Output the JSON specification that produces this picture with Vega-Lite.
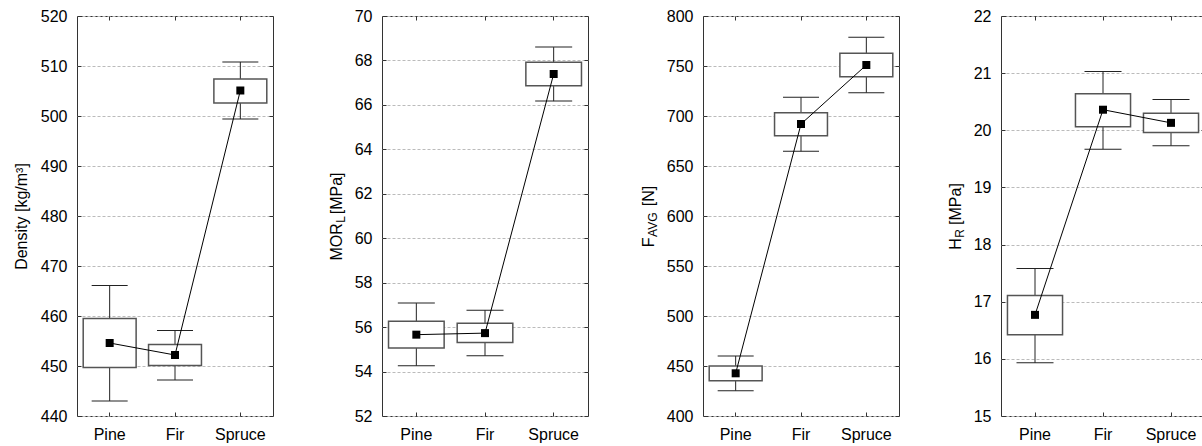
{
  "$schema": "https://vega.github.io/schema/vega-lite/v6.json",
  "background": "white",
  "padding": {"left": 12, "top": 7, "right": 0, "bottom": 0},
  "data": {"values": [
    {"panel": "Density", "species": "Pine", "lo": 443.0, "boxLo": 449.7, "mean": 454.6, "boxHi": 459.5, "hi": 466.1},
    {"panel": "Density", "species": "Fir", "lo": 447.2, "boxLo": 450.1, "mean": 452.2, "boxHi": 454.3, "hi": 457.1},
    {"panel": "Density", "species": "Spruce", "lo": 499.4, "boxLo": 502.6, "mean": 505.1, "boxHi": 507.4, "hi": 510.8},
    {"panel": "MOR", "species": "Pine", "lo": 54.26, "boxLo": 55.06, "mean": 55.66, "boxHi": 56.26, "hi": 57.08},
    {"panel": "MOR", "species": "Fir", "lo": 54.71, "boxLo": 55.31, "mean": 55.73, "boxHi": 56.17, "hi": 56.76},
    {"panel": "MOR", "species": "Spruce", "lo": 66.17, "boxLo": 66.86, "mean": 67.39, "boxHi": 67.92, "hi": 68.6},
    {"panel": "F", "species": "Pine", "lo": 425.3, "boxLo": 435.3, "mean": 442.7, "boxHi": 450.0, "hi": 460.0},
    {"panel": "F", "species": "Fir", "lo": 664.7, "boxLo": 680.3, "mean": 692.0, "boxHi": 703.3, "hi": 718.7},
    {"panel": "F", "species": "Spruce", "lo": 723.3, "boxLo": 739.3, "mean": 751.0, "boxHi": 762.7, "hi": 778.7},
    {"panel": "H", "species": "Pine", "lo": 15.93, "boxLo": 16.42, "mean": 16.77, "boxHi": 17.11, "hi": 17.58},
    {"panel": "H", "species": "Fir", "lo": 19.67, "boxLo": 20.06, "mean": 20.36, "boxHi": 20.64, "hi": 21.03},
    {"panel": "H", "species": "Spruce", "lo": 19.73, "boxLo": 19.96, "mean": 20.13, "boxHi": 20.30, "hi": 20.54}
  ]},
  "spacing": 50,
  "hconcat": [
    {
      "spacing": 109,
      "bounds": "flush",
      "hconcat": [
        {
          "width": 196, "height": 400,
          "transform": [{"filter": "datum.panel === 'Density'"}],
          "resolve": {"axis": {"x": "independent", "y": "independent"}},
          "layer": [
            {"mark": {"type": "rule", "color": "#222", "strokeWidth": 1},
             "encoding": {
               "x": {"field": "species", "type": "nominal", "sort": ["Pine", "Fir", "Spruce"], "scale": {"paddingInner": 0, "paddingOuter": 0}, "axis": {"orient": "bottom", "labelPadding": 14, "labelAngle": 0, "title": null}},
               "y": {"field": "lo", "type": "quantitative", "scale": {"domain": [440, 520], "nice": false, "zero": false}, "axis": {"orient": "left", "values": [440, 450, 460, 470, 480, 490, 500, 510, 520], "grid": true, "gridColor": "#bbbbbb", "gridDash": [3, 2], "labelPadding": 14, "title": "Density [kg/m³]", "titleX": -51, "titleY": 200, "titleAngle": -90, "titleAlign": "center", "titleBaseline": "alphabetic"}},
               "y2": {"field": "hi"}}},
            {"mark": {"type": "tick", "color": "#222", "size": 36, "thickness": 1, "opacity": 1},
             "encoding": {
               "x": {"field": "species", "type": "nominal", "sort": ["Pine", "Fir", "Spruce"], "scale": {"paddingInner": 0, "paddingOuter": 0}, "axis": null},
               "y": {"field": "hi", "type": "quantitative", "scale": {"domain": [440, 520], "nice": false, "zero": false}, "axis": null}}},
            {"mark": {"type": "tick", "color": "#222", "size": 36, "thickness": 1, "opacity": 1},
             "encoding": {
               "x": {"field": "species", "type": "nominal", "sort": ["Pine", "Fir", "Spruce"], "scale": {"paddingInner": 0, "paddingOuter": 0}, "axis": null},
               "y": {"field": "lo", "type": "quantitative", "scale": {"domain": [440, 520], "nice": false, "zero": false}, "axis": null}}},
            {"mark": {"type": "bar", "fill": "white", "stroke": "#555", "strokeWidth": 1.5, "width": {"band": 0.81}},
             "encoding": {
               "x": {"field": "species", "type": "nominal", "sort": ["Pine", "Fir", "Spruce"], "scale": {"paddingInner": 0, "paddingOuter": 0}, "axis": null},
               "y": {"field": "boxLo", "type": "quantitative", "scale": {"domain": [440, 520], "nice": false, "zero": false}, "axis": null},
               "y2": {"field": "boxHi"}}},
            {"mark": {"type": "line", "color": "#000", "strokeWidth": 1},
             "encoding": {
               "x": {"field": "species", "type": "nominal", "sort": ["Pine", "Fir", "Spruce"], "scale": {"paddingInner": 0, "paddingOuter": 0}, "axis": null},
               "y": {"field": "mean", "type": "quantitative", "scale": {"domain": [440, 520], "nice": false, "zero": false}, "axis": null}}},
            {"mark": {"type": "point", "shape": "square", "filled": true, "color": "#000", "size": 64, "opacity": 1},
             "encoding": {
               "x": {"field": "species", "type": "nominal", "sort": ["Pine", "Fir", "Spruce"], "scale": {"paddingInner": 0, "paddingOuter": 0}, "axis": {"orient": "top", "labels": false, "title": null}},
               "y": {"field": "mean", "type": "quantitative", "scale": {"domain": [440, 520], "nice": false, "zero": false}, "axis": {"orient": "right", "values": [440, 450, 460, 470, 480, 490, 500, 510, 520], "labels": false, "title": null}}}}
          ]
        },
        {
          "width": 206, "height": 400,
          "transform": [{"filter": "datum.panel === 'MOR'"}],
          "resolve": {"axis": {"x": "independent", "y": "independent"}},
          "layer": [
            {"mark": {"type": "rule", "color": "#222", "strokeWidth": 1},
             "encoding": {
               "x": {"field": "species", "type": "nominal", "sort": ["Pine", "Fir", "Spruce"], "scale": {"paddingInner": 0, "paddingOuter": 0}, "axis": {"orient": "bottom", "labelPadding": 14, "labelAngle": 0, "title": null}},
               "y": {"field": "lo", "type": "quantitative", "scale": {"domain": [52, 70], "nice": false, "zero": false}, "axis": {"orient": "left", "values": [52, 54, 56, 58, 60, 62, 64, 66, 68, 70], "grid": true, "gridColor": "#bbbbbb", "gridDash": [3, 2], "labelPadding": 14, "title": "MOR\u00a0\u00a0[MPa]", "titleX": -41, "titleY": 200, "titleAngle": -90, "titleAlign": "center", "titleBaseline": "alphabetic"}},
               "y2": {"field": "hi"}}},
            {"mark": {"type": "tick", "color": "#222", "size": 37, "thickness": 1, "opacity": 1},
             "encoding": {
               "x": {"field": "species", "type": "nominal", "sort": ["Pine", "Fir", "Spruce"], "scale": {"paddingInner": 0, "paddingOuter": 0}, "axis": null},
               "y": {"field": "hi", "type": "quantitative", "scale": {"domain": [52, 70], "nice": false, "zero": false}, "axis": null}}},
            {"mark": {"type": "tick", "color": "#222", "size": 37, "thickness": 1, "opacity": 1},
             "encoding": {
               "x": {"field": "species", "type": "nominal", "sort": ["Pine", "Fir", "Spruce"], "scale": {"paddingInner": 0, "paddingOuter": 0}, "axis": null},
               "y": {"field": "lo", "type": "quantitative", "scale": {"domain": [52, 70], "nice": false, "zero": false}, "axis": null}}},
            {"mark": {"type": "bar", "fill": "white", "stroke": "#555", "strokeWidth": 1.5, "width": {"band": 0.81}},
             "encoding": {
               "x": {"field": "species", "type": "nominal", "sort": ["Pine", "Fir", "Spruce"], "scale": {"paddingInner": 0, "paddingOuter": 0}, "axis": null},
               "y": {"field": "boxLo", "type": "quantitative", "scale": {"domain": [52, 70], "nice": false, "zero": false}, "axis": null},
               "y2": {"field": "boxHi"}}},
            {"mark": {"type": "line", "color": "#000", "strokeWidth": 1},
             "encoding": {
               "x": {"field": "species", "type": "nominal", "sort": ["Pine", "Fir", "Spruce"], "scale": {"paddingInner": 0, "paddingOuter": 0}, "axis": null},
               "y": {"field": "mean", "type": "quantitative", "scale": {"domain": [52, 70], "nice": false, "zero": false}, "axis": null}}},
            {"mark": {"type": "point", "shape": "square", "filled": true, "color": "#000", "size": 64, "opacity": 1},
             "encoding": {
               "x": {"field": "species", "type": "nominal", "sort": ["Pine", "Fir", "Spruce"], "scale": {"paddingInner": 0, "paddingOuter": 0}, "axis": {"orient": "top", "labels": false, "title": null}},
               "y": {"field": "mean", "type": "quantitative", "scale": {"domain": [52, 70], "nice": false, "zero": false}, "axis": {"orient": "right", "values": [52, 54, 56, 58, 60, 62, 64, 66, 68, 70], "labels": false, "title": "L", "titleFontSize": 12, "titleX": -244, "titleY": 206.2, "titleAngle": -90, "titleAlign": "left", "titleBaseline": "alphabetic"}}}}
          ]
        }
      ]
    },
    {
      "spacing": 102,
      "bounds": "flush",
      "hconcat": [
        {
          "width": 196, "height": 400,
          "transform": [{"filter": "datum.panel === 'F'"}],
          "resolve": {"axis": {"x": "independent", "y": "independent"}},
          "layer": [
            {"mark": {"type": "rule", "color": "#222", "strokeWidth": 1},
             "encoding": {
               "x": {"field": "species", "type": "nominal", "sort": ["Pine", "Fir", "Spruce"], "scale": {"paddingInner": 0, "paddingOuter": 0}, "axis": {"orient": "bottom", "labelPadding": 14, "labelAngle": 0, "title": null}},
               "y": {"field": "lo", "type": "quantitative", "scale": {"domain": [400, 800], "nice": false, "zero": false}, "axis": {"orient": "left", "values": [400, 450, 500, 550, 600, 650, 700, 750, 800], "grid": true, "gridColor": "#bbbbbb", "gridDash": [3, 2], "labelPadding": 14, "title": "F\u00a0\u00a0\u00a0\u00a0\u00a0\u00a0\u00a0[N]", "titleX": -50, "titleY": 200, "titleAngle": -90, "titleAlign": "center", "titleBaseline": "alphabetic"}},
               "y2": {"field": "hi"}}},
            {"mark": {"type": "tick", "color": "#222", "size": 36, "thickness": 1, "opacity": 1},
             "encoding": {
               "x": {"field": "species", "type": "nominal", "sort": ["Pine", "Fir", "Spruce"], "scale": {"paddingInner": 0, "paddingOuter": 0}, "axis": null},
               "y": {"field": "hi", "type": "quantitative", "scale": {"domain": [400, 800], "nice": false, "zero": false}, "axis": null}}},
            {"mark": {"type": "tick", "color": "#222", "size": 36, "thickness": 1, "opacity": 1},
             "encoding": {
               "x": {"field": "species", "type": "nominal", "sort": ["Pine", "Fir", "Spruce"], "scale": {"paddingInner": 0, "paddingOuter": 0}, "axis": null},
               "y": {"field": "lo", "type": "quantitative", "scale": {"domain": [400, 800], "nice": false, "zero": false}, "axis": null}}},
            {"mark": {"type": "bar", "fill": "white", "stroke": "#555", "strokeWidth": 1.5, "width": {"band": 0.81}},
             "encoding": {
               "x": {"field": "species", "type": "nominal", "sort": ["Pine", "Fir", "Spruce"], "scale": {"paddingInner": 0, "paddingOuter": 0}, "axis": null},
               "y": {"field": "boxLo", "type": "quantitative", "scale": {"domain": [400, 800], "nice": false, "zero": false}, "axis": null},
               "y2": {"field": "boxHi"}}},
            {"mark": {"type": "line", "color": "#000", "strokeWidth": 1},
             "encoding": {
               "x": {"field": "species", "type": "nominal", "sort": ["Pine", "Fir", "Spruce"], "scale": {"paddingInner": 0, "paddingOuter": 0}, "axis": null},
               "y": {"field": "mean", "type": "quantitative", "scale": {"domain": [400, 800], "nice": false, "zero": false}, "axis": null}}},
            {"mark": {"type": "point", "shape": "square", "filled": true, "color": "#000", "size": 64, "opacity": 1},
             "encoding": {
               "x": {"field": "species", "type": "nominal", "sort": ["Pine", "Fir", "Spruce"], "scale": {"paddingInner": 0, "paddingOuter": 0}, "axis": {"orient": "top", "labels": false, "title": null}},
               "y": {"field": "mean", "type": "quantitative", "scale": {"domain": [400, 800], "nice": false, "zero": false}, "axis": {"orient": "right", "values": [400, 450, 500, 550, 600, 650, 700, 750, 800], "labels": false, "title": "AVG", "titleFontSize": 12, "titleX": -243, "titleY": 220.4, "titleAngle": -90, "titleAlign": "left", "titleBaseline": "alphabetic"}}}}
          ]
        },
        {
          "width": 204, "height": 400,
          "transform": [{"filter": "datum.panel === 'H'"}],
          "resolve": {"axis": {"x": "independent", "y": "independent"}},
          "layer": [
            {"mark": {"type": "rule", "color": "#222", "strokeWidth": 1},
             "encoding": {
               "x": {"field": "species", "type": "nominal", "sort": ["Pine", "Fir", "Spruce"], "scale": {"paddingInner": 0, "paddingOuter": 0}, "axis": {"orient": "bottom", "labelPadding": 14, "labelAngle": 0, "title": null}},
               "y": {"field": "lo", "type": "quantitative", "scale": {"domain": [15, 22], "nice": false, "zero": false}, "axis": {"orient": "left", "values": [15, 16, 17, 18, 19, 20, 21, 22], "grid": true, "gridColor": "#bbbbbb", "gridDash": [3, 2], "labelPadding": 14, "title": "H\u00a0\u00a0\u00a0[MPa]", "titleX": -41, "titleY": 200, "titleAngle": -90, "titleAlign": "center", "titleBaseline": "alphabetic"}},
               "y2": {"field": "hi"}}},
            {"mark": {"type": "tick", "color": "#222", "size": 37, "thickness": 1, "opacity": 1},
             "encoding": {
               "x": {"field": "species", "type": "nominal", "sort": ["Pine", "Fir", "Spruce"], "scale": {"paddingInner": 0, "paddingOuter": 0}, "axis": null},
               "y": {"field": "hi", "type": "quantitative", "scale": {"domain": [15, 22], "nice": false, "zero": false}, "axis": null}}},
            {"mark": {"type": "tick", "color": "#222", "size": 37, "thickness": 1, "opacity": 1},
             "encoding": {
               "x": {"field": "species", "type": "nominal", "sort": ["Pine", "Fir", "Spruce"], "scale": {"paddingInner": 0, "paddingOuter": 0}, "axis": null},
               "y": {"field": "lo", "type": "quantitative", "scale": {"domain": [15, 22], "nice": false, "zero": false}, "axis": null}}},
            {"mark": {"type": "bar", "fill": "white", "stroke": "#555", "strokeWidth": 1.5, "width": {"band": 0.81}},
             "encoding": {
               "x": {"field": "species", "type": "nominal", "sort": ["Pine", "Fir", "Spruce"], "scale": {"paddingInner": 0, "paddingOuter": 0}, "axis": null},
               "y": {"field": "boxLo", "type": "quantitative", "scale": {"domain": [15, 22], "nice": false, "zero": false}, "axis": null},
               "y2": {"field": "boxHi"}}},
            {"mark": {"type": "line", "color": "#000", "strokeWidth": 1},
             "encoding": {
               "x": {"field": "species", "type": "nominal", "sort": ["Pine", "Fir", "Spruce"], "scale": {"paddingInner": 0, "paddingOuter": 0}, "axis": null},
               "y": {"field": "mean", "type": "quantitative", "scale": {"domain": [15, 22], "nice": false, "zero": false}, "axis": null}}},
            {"mark": {"type": "point", "shape": "square", "filled": true, "color": "#000", "size": 64, "opacity": 1},
             "encoding": {
               "x": {"field": "species", "type": "nominal", "sort": ["Pine", "Fir", "Spruce"], "scale": {"paddingInner": 0, "paddingOuter": 0}, "axis": {"orient": "top", "labels": false, "title": null}},
               "y": {"field": "mean", "type": "quantitative", "scale": {"domain": [15, 22], "nice": false, "zero": false}, "axis": {"orient": "right", "values": [15, 16, 17, 18, 19, 20, 21, 22], "labels": false, "title": "R", "titleFontSize": 12, "titleX": -242, "titleY": 221.3, "titleAngle": -90, "titleAlign": "left", "titleBaseline": "alphabetic"}}}}
          ]
        }
      ]
    }
  ],
  "config": {
    "view": {"stroke": "#333", "strokeWidth": 1},
    "font": "Liberation Sans",
    "axis": {
      "domain": false, "grid": false, "tickSize": -4, "tickColor": "#333", "tickWidth": 1,
      "labelFont": "Liberation Sans", "labelFontSize": 16, "labelColor": "#000",
      "titleFont": "Liberation Sans", "titleFontSize": 16, "titleFontWeight": "normal", "titleColor": "#000"
    }
  }
}
